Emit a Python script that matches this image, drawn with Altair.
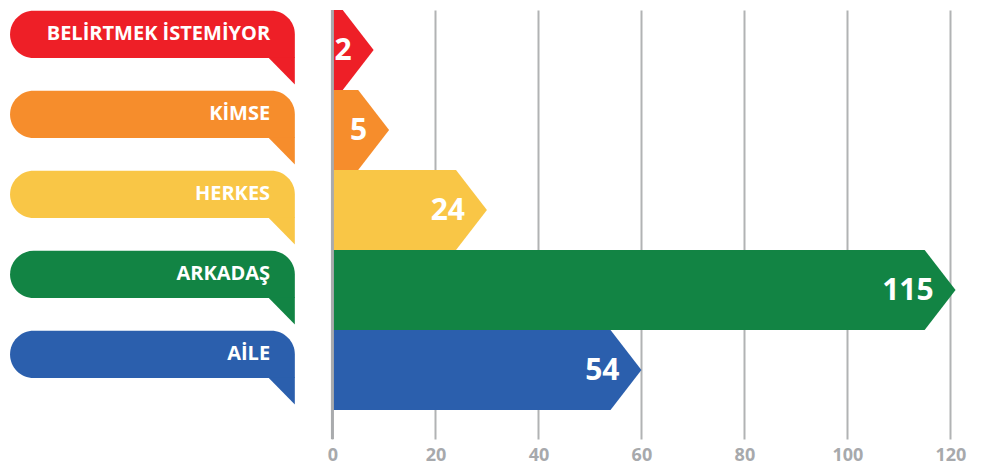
import altair as alt
import pandas as pd

# ---- data ----
categories = ["BELİRTMEK İSTEMİYOR", "KİMSE", "HERKES", "ARKADAŞ", "AİLE"]
values = [2, 5, 24, 115, 54]
colors = ["#EE1F27", "#F68D2C", "#F9C646", "#128444", "#2B5FAD"]
tick_values = [0, 20, 40, 60, 80, 100, 120]

# ---- layout constants (data units of the scales) ----
X_MIN, X_MAX = -63, 124
Y_MAX = 5.3625
TIP = 6.0            # arrow tip length
TAB_L, TAB_R = -62.6, -7.3
TAIL_L = -12.5
TEXT_R = -12.1
TAB_TOP, TAB_BOT, TAIL_BOT = 0.01, 0.60, 0.93

bar_rows, tab_rows, tail_rows = [], [], []
for i, (c, v) in enumerate(zip(categories, values)):
    bar_rows += [
        dict(cat=c, x=0, y=i, y2=i + 1),
        dict(cat=c, x=v, y=i, y2=i + 1),
        dict(cat=c, x=v + TIP, y=i + 0.5, y2=i + 0.5),
    ]
    tab_rows.append(dict(cat=c, x=TAB_L, x2=TAB_R, y=i + TAB_TOP, y2=i + TAB_BOT,
                         ym=i + (TAB_TOP + TAB_BOT) / 2, xt=TEXT_R, v=v, yc=i + 0.5))
    tail_rows += [
        dict(cat=c, x=TAIL_L, y=i + TAB_BOT - 0.01, y2=i + TAB_BOT - 0.01),
        dict(cat=c, x=TAB_R, y=i + TAB_BOT - 0.01, y2=i + TAIL_BOT),
    ]

bars = pd.DataFrame(bar_rows)
tabs = pd.DataFrame(tab_rows)
tails = pd.DataFrame(tail_rows)

xs = alt.Scale(domain=[X_MIN, X_MAX], nice=False, zero=False)
ys = alt.Scale(domain=[0, Y_MAX], nice=False, zero=False, reverse=True)
cs = alt.Scale(domain=categories, range=colors)
FONT = "Open Sans"

xaxis = alt.Axis(values=tick_values, grid=True, gridColor="#B1B3B4", gridWidth=2,
                 domain=False, ticks=False, labelFont=FONT, labelFontWeight="bold",
                 labelFontSize=18, labelColor="#A7A9AC", labelPadding=7, title=None)

bar_layer = alt.Chart(bars).mark_area(interpolate="linear").encode(
    x=alt.X("x:Q", scale=xs, axis=xaxis),
    y=alt.Y("y:Q", scale=ys, axis=None),
    y2="y2:Q",
    color=alt.Color("cat:N", scale=cs, legend=None),
)

zero_rule = alt.Chart(pd.DataFrame({"x": [0]})).mark_rule(
    color="#A9ABAD", strokeWidth=3
).encode(x=alt.X("x:Q", scale=xs))

tab_layer = alt.Chart(tabs).mark_rect(
    cornerRadiusTopLeft=24, cornerRadiusBottomLeft=24,
    cornerRadiusTopRight=24, cornerRadiusBottomRight=0,
).encode(
    x=alt.X("x:Q", scale=xs), x2="x2:Q",
    y=alt.Y("y:Q", scale=ys), y2="y2:Q",
    color=alt.Color("cat:N", scale=cs, legend=None),
)

tail_layer = alt.Chart(tails).mark_area(interpolate="linear").encode(
    x=alt.X("x:Q", scale=xs),
    y=alt.Y("y:Q", scale=ys),
    y2="y2:Q",
    color=alt.Color("cat:N", scale=cs, legend=None),
)

tab_text = alt.Chart(tabs).mark_text(
    align="right", baseline="middle", font=FONT, fontWeight="bold",
    fontSize=20, color="white"
).encode(
    x=alt.X("xt:Q", scale=xs), y=alt.Y("ym:Q", scale=ys), text="cat:N"
)

val_text = alt.Chart(tabs).mark_text(
    align="right", baseline="middle", font=FONT, fontWeight="bold",
    fontSize=30, color="white", dx=9, dy=1
).encode(
    x=alt.X("v:Q", scale=xs), y=alt.Y("yc:Q", scale=ys), text="v:Q"
)

chart = alt.layer(bar_layer, zero_rule, tab_layer, tail_layer, tab_text, val_text).properties(
    width=963, height=429,
    padding={"left": 0, "top": 0, "right": 5, "bottom": 6}
).configure_view(stroke=None)

chart.save("out.html", embed_options={"renderer": "svg", "actions": False})
